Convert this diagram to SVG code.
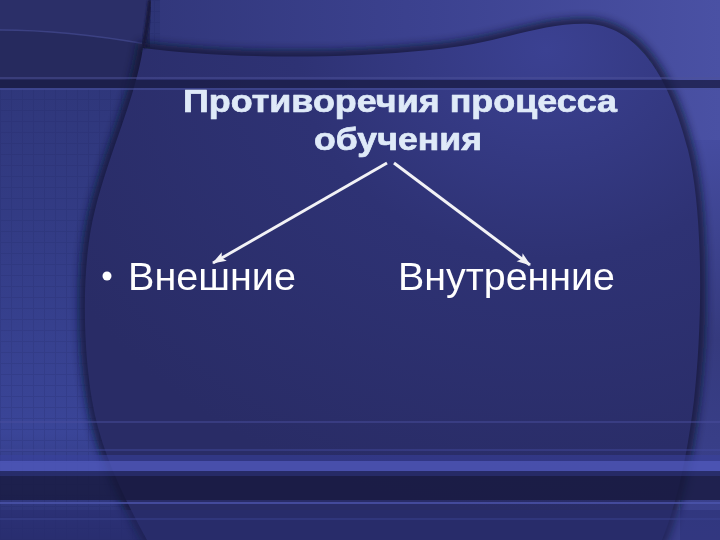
<svg xmlns="http://www.w3.org/2000/svg" width="720" height="540" viewBox="0 0 720 540">
<defs>
<style>
.title{font-family:"Liberation Sans",Arial,sans-serif;font-weight:bold;font-size:32px;fill:#dfeaf8;stroke:#dfeaf8;stroke-width:0.7px;stroke-linejoin:round;text-anchor:middle}
.item{font-family:"Liberation Sans",Arial,sans-serif;font-size:39px;fill:#ffffff}
.conn{stroke:#f2f2f6;stroke-width:3;fill:none}
</style>
<linearGradient id="bgTop" x1="0" y1="0" x2="1" y2="0">
<stop offset="0" stop-color="#2c3170"/><stop offset="0.6" stop-color="#3c4290"/><stop offset="1" stop-color="#4a51a4"/>
</linearGradient>
<linearGradient id="leftReg" x1="0" y1="0" x2="0" y2="1">
<stop offset="0" stop-color="#2d3475"/><stop offset="0.45" stop-color="#333c86"/><stop offset="0.8" stop-color="#3a4598"/><stop offset="1" stop-color="#2a3070"/>
</linearGradient>
<radialGradient id="central" cx="0.75" cy="0.05" r="0.9">
<stop offset="0" stop-color="#3b4192"/><stop offset="0.45" stop-color="#2e3274"/><stop offset="1" stop-color="#292c66"/>
</radialGradient>
<linearGradient id="rightReg" x1="0" y1="0" x2="0" y2="1">
<stop offset="0" stop-color="#454ca0"/><stop offset="0.5" stop-color="#353a7e"/><stop offset="1" stop-color="#3b4290"/>
</linearGradient>
<filter id="blur6" x="-20%" y="-20%" width="140%" height="140%"><feGaussianBlur stdDeviation="5"/></filter>
<filter id="blur1"><feGaussianBlur stdDeviation="1"/></filter>
<pattern id="grid" width="11" height="11" patternUnits="userSpaceOnUse">
<path d="M0,0.5 H11 M0.5,0 V11" stroke="#1e2460" stroke-width="1" fill="none"/>
</pattern>
<marker id="arrow" markerUnits="userSpaceOnUse" markerWidth="16" markerHeight="12" refX="13" refY="5" orient="auto">
<path d="M0,0 L14,5 L0,10 L3,5 Z" fill="#f2f2f6"/>
</marker>
</defs>

<g id="background">
<rect width="720" height="540" fill="url(#bgTop)"/>
<rect x="0" y="0" width="160" height="540" fill="url(#leftReg)"/>
<rect x="0" y="0" width="160" height="540" fill="url(#grid)" opacity="0.18"/>
<rect x="680" y="140" width="40" height="400" fill="url(#rightReg)"/>
<path d="M0,0 H150 V88 H0 Z" fill="#262a5e"/>
<path d="M0,0 H150 L146,44 C100,36 50,30 0,30 Z" fill="#2b2f68"/>
<path d="M0,30 C50,30 100,36 146,44" stroke="#4a509a" stroke-width="1.5" fill="none" opacity="0.6"/>
<path d="M143,48 C220,58 330,60 430,50 C500,44 540,22 590,24 C640,28 670,80 688,150 C703,210 703,320 694,400 C688,450 678,500 662,540 L147,540 C125,500 100,450 92,400 C82,340 82,260 95,210 C110,150 135,100 143,48 Z" fill="none" stroke="#11132e" stroke-width="10" filter="url(#blur6)" opacity="0.9"/>
<path d="M143,48 C220,58 330,60 430,50 C500,44 540,22 590,24 C640,28 670,80 688,150 C703,210 703,320 694,400 C688,450 678,500 662,540 L147,540 C125,500 100,450 92,400 C82,340 82,260 95,210 C110,150 135,100 143,48 Z" fill="url(#central)"/>
<path d="M150,0 C148,20 146,35 143,48" stroke="#15183a" stroke-width="4" fill="none" filter="url(#blur1)"/>
<g opacity="0.95">
<rect x="0" y="77" width="720" height="2" fill="#4d5499" opacity="0.5"/>
<rect x="0" y="80" width="720" height="8" fill="#1a1d45" opacity="0.8"/>
<rect x="0" y="88" width="720" height="2" fill="#4a519c" opacity="0.6"/>
<rect x="0" y="421" width="720" height="2" fill="#4a50a0" opacity="0.5"/>
<rect x="0" y="449" width="720" height="2" fill="#444ba0" opacity="0.45"/>
<rect x="0" y="455" width="720" height="6" fill="#3a42a0" opacity="0.55"/>
<rect x="0" y="461" width="720" height="10" fill="#5058bc" opacity="0.85"/>
<rect x="0" y="471" width="720" height="5" fill="#262a66" opacity="0.9"/>
<rect x="0" y="476" width="720" height="24" fill="#16183c" opacity="0.8"/>
<rect x="0" y="502" width="720" height="2" fill="#5058b0" opacity="0.75"/>
<rect x="0" y="510" width="720" height="30" fill="#2a2e70" opacity="0.5"/>
<rect x="0" y="518" width="720" height="2" fill="#3c4392" opacity="0.5"/>
</g>
</g>

<g id="title">
<text class="title" x="400" y="112" textLength="434" lengthAdjust="spacingAndGlyphs">Противоречия процесса</text>
<text class="title" x="398" y="150" textLength="168" lengthAdjust="spacingAndGlyphs">обучения</text>
</g>

<g id="connectors">
<line class="conn" x1="387" y1="163" x2="213" y2="263" marker-end="url(#arrow)"/>
<line class="conn" x1="394" y1="163" x2="530" y2="265" marker-end="url(#arrow)"/>
</g>

<g id="node-external">
<circle cx="107" cy="276" r="4.5" fill="#ffffff"/>
<text class="item" x="128" y="290" textLength="168" lengthAdjust="spacingAndGlyphs">Внешние</text>
</g>

<g id="node-internal">
<text class="item" x="398" y="290" textLength="217" lengthAdjust="spacingAndGlyphs">Внутренние</text>
</g>
</svg>
